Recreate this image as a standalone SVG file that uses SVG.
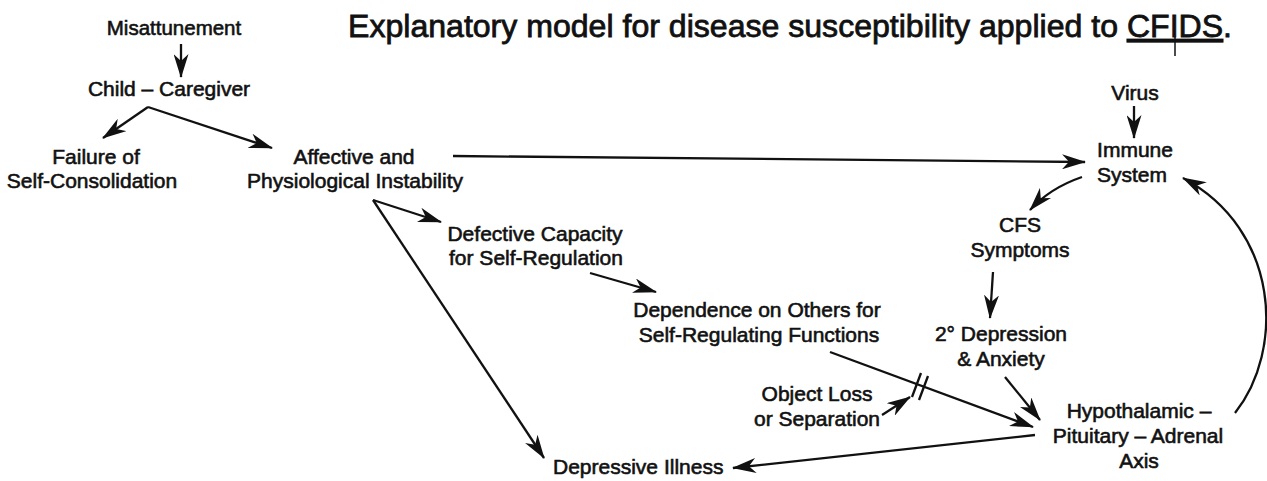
<svg xmlns="http://www.w3.org/2000/svg" width="1267" height="481" viewBox="0 0 1267 481">
<style>
text{font-family:"Liberation Sans",Arial,sans-serif;fill:#111;stroke:#111;stroke-width:0.6;text-anchor:middle;font-size:21px}
.t{font-size:32px;text-anchor:start;stroke-width:0.8}
.s{font-size:20.5px}
.l{text-anchor:start}
.c{fill:none;stroke:#111;stroke-width:2.3;marker-end:url(#ah)}
.n{fill:none;stroke:#111;stroke-width:2.3}
</style>
<defs>
<marker id="ah" viewBox="0 0 24 15" refX="23" refY="7.5" markerWidth="24" markerHeight="15" markerUnits="userSpaceOnUse" orient="auto">
<path d="M0,0 L24,7.5 L0,15 L7,7.5 Z" fill="#111"/>
</marker>
</defs>
<g id="title">
<text class="t" x="348" y="37" textLength="884" lengthAdjust="spacingAndGlyphs">Explanatory model for disease susceptibility applied to <tspan text-decoration="underline">CFIDS</tspan>.</text>
<line x1="1175" y1="37" x2="1175" y2="56" stroke="#111" stroke-width="1.5"/>
</g>
<g id="n-misattunement"><text class="s" x="174" y="35">Misattunement</text></g>
<g id="n-child"><text x="169" y="96">Child – Caregiver</text></g>
<g id="n-failure"><text x="96" y="164">Failure of</text><text x="92" y="188">Self-Consolidation</text></g>
<g id="n-affective"><text x="354" y="164">Affective and</text><text x="355" y="188">Physiological Instability</text></g>
<g id="n-virus"><text x="1135" y="100">Virus</text></g>
<g id="n-immune"><text x="1135" y="157">Immune</text><text x="1132" y="182">System</text></g>
<g id="n-cfs"><text x="1020" y="232">CFS</text><text x="1020" y="257">Symptoms</text></g>
<g id="n-depression2"><text x="1001" y="341">2° Depression</text><text x="1001" y="366">&amp; Anxiety</text></g>
<g id="n-hpa"><text x="1139" y="418">Hypothalamic –</text><text x="1138" y="443">Pituitary – Adrenal</text><text x="1139" y="468">Axis</text></g>
<g id="n-defective"><text x="535" y="241">Defective Capacity</text><text x="536" y="265">for Self-Regulation</text></g>
<g id="n-dependence"><text x="757" y="317">Dependence on Others for</text><text x="759" y="342">Self-Regulating Functions</text></g>
<g id="n-objectloss"><text x="817" y="401">Object Loss</text><text x="817" y="426">or Separation</text></g>
<g id="n-depressive"><text class="l" x="553" y="474">Depressive Illness</text></g>
<g id="connectors">
<path class="c" d="M181,44 L181,77"/>
<path class="c" d="M148,107 L103,138"/>
<path class="c" d="M148,107 L272,148"/>
<path class="c" d="M453,156 L1085,162"/>
<path class="c" d="M1134,106 L1134,138"/>
<path class="c" d="M1082,177 Q1050,188 1030,210"/>
<path class="c" d="M993,272 L990,318"/>
<path class="c" d="M1005,377 L1040,420"/>
<path class="c" d="M1235,413 C1285,350 1280,230 1183,178"/>
<path class="c" d="M373,200 L441,222"/>
<path class="c" d="M590,273 L656,292"/>
<path class="c" d="M830,352 L1033,427"/>
<path class="n" d="M912,397 L921,373 M919,400 L928,376"/>
<path class="c" d="M882,415 L910,397"/>
<path class="c" d="M373,200 L544,458"/>
<path class="c" d="M1035,435 L733,468"/>
</g>
</svg>
